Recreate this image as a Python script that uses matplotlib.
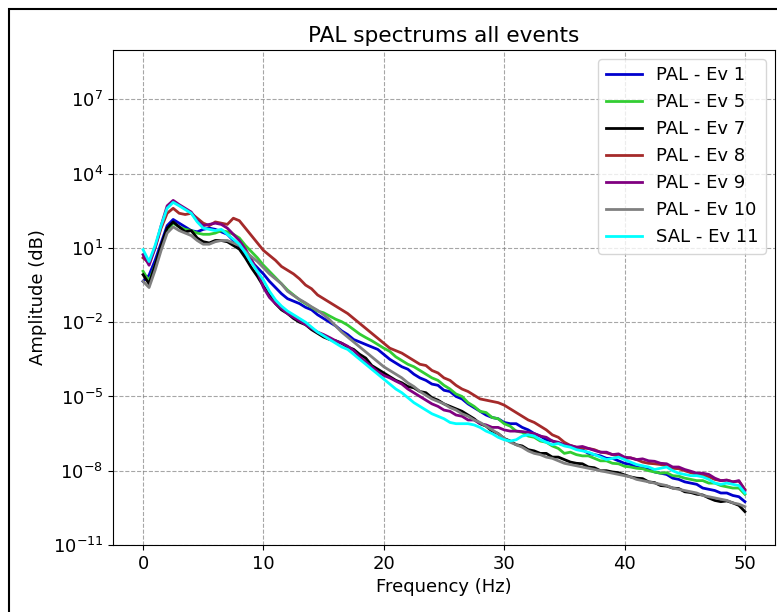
import numpy as np
import matplotlib
matplotlib.use('Agg')
import matplotlib.pyplot as plt
from matplotlib.patches import Rectangle
from matplotlib.ticker import NullLocator

# Frequency axis (Hz), 0.5 Hz resolution
freqs = np.arange(0, 50.5, 0.5)

# Spectral amplitudes, stored as log10 values
ev1_log = [-0.35, -0.10, 0.50, 1.20, 1.90, 2.15, 2.00, 1.85, 1.70, 1.65,
           1.75, 1.80, 1.75, 1.65, 1.55, 1.30, 1.05, 0.75, 0.45, 0.20,
           -0.05, -0.35, -0.60, -0.85, -1.05, -1.15, -1.25, -1.40, -1.50, -1.70,
           -1.85, -2.00, -2.15, -2.35, -2.50, -2.70, -2.80, -2.90, -3.00, -3.10,
           -3.30, -3.50, -3.65, -3.80, -3.90, -4.10, -4.25, -4.35, -4.50, -4.55,
           -4.75, -4.80, -5.00, -5.10, -5.30, -5.45, -5.60, -5.75, -5.85, -5.90,
           -6.05, -6.10, -6.10, -6.25, -6.35, -6.50, -6.60, -6.75, -6.80, -6.90,
           -6.95, -7.00, -7.10, -7.15, -7.30, -7.35, -7.40, -7.50, -7.50, -7.60,
           -7.70, -7.75, -7.85, -7.90, -7.95, -8.05, -8.10, -8.15, -8.30, -8.35,
           -8.45, -8.50, -8.55, -8.70, -8.75, -8.80, -8.90, -8.90, -9.00, -9.05,
           -9.25]

ev5_log = [0.06, -0.35, 0.30, 1.00, 1.70, 2.00, 1.85, 1.75, 1.70, 1.60,
           1.55, 1.55, 1.60, 1.70, 1.65, 1.55, 1.40, 1.10, 0.85, 0.60,
           0.30, 0.05, -0.20, -0.45, -0.70, -0.90, -1.10, -1.25, -1.40, -1.55,
           -1.62, -1.75, -1.88, -1.98, -2.12, -2.30, -2.48, -2.62, -2.75, -2.90,
           -3.05, -3.18, -3.40, -3.55, -3.70, -3.80, -3.95, -4.10, -4.25, -4.35,
           -4.55, -4.70, -4.90, -5.00, -5.25, -5.40, -5.60, -5.65, -5.85, -5.90,
           -6.10, -6.20, -6.40, -6.45, -6.60, -6.65, -6.80, -6.85, -7.00, -7.10,
           -7.30, -7.25, -7.35, -7.40, -7.40, -7.50, -7.60, -7.60, -7.70, -7.72,
           -7.82, -7.85, -7.90, -7.92, -8.00, -8.05, -8.10, -8.08, -8.20, -8.22,
           -8.30, -8.35, -8.40, -8.40, -8.50, -8.50, -8.60, -8.65, -8.70, -8.70,
           -8.95]

ev7_log = [-0.08, -0.45, 0.30, 1.10, 1.80, 2.05, 1.85, 1.65, 1.70, 1.40,
           1.25, 1.20, 1.30, 1.30, 1.25, 1.10, 0.95, 0.60, 0.20, -0.15,
           -0.55, -0.90, -1.25, -1.50, -1.65, -1.85, -2.00, -2.10, -2.30, -2.45,
           -2.60, -2.70, -2.75, -2.85, -3.00, -3.10, -3.30, -3.45, -3.75, -3.90,
           -4.05, -4.20, -4.35, -4.45, -4.60, -4.65, -4.80, -4.85, -5.05, -5.15,
           -5.30, -5.40, -5.50, -5.60, -5.75, -5.90, -6.10, -6.20, -6.40, -6.50,
           -6.70, -6.80, -6.95, -7.00, -7.15, -7.20, -7.30, -7.30, -7.45, -7.45,
           -7.55, -7.65, -7.70, -7.72, -7.85, -7.88, -8.00, -8.00, -8.05, -8.08,
           -8.17, -8.25, -8.30, -8.32, -8.45, -8.48, -8.60, -8.62, -8.70, -8.72,
           -8.85, -8.88, -8.95, -8.98, -9.10, -9.20, -9.25, -9.22, -9.30, -9.40,
           -9.65]

ev8_log = [0.60, 0.40, 1.00, 1.80, 2.40, 2.60, 2.40, 2.35, 2.40, 2.20,
           2.00, 1.90, 2.05, 2.00, 1.95, 2.20, 2.10, 1.80, 1.50, 1.20,
           0.90, 0.70, 0.50, 0.25, 0.10, -0.05, -0.25, -0.50, -0.65, -0.90,
           -1.05, -1.20, -1.35, -1.50, -1.65, -1.85, -2.05, -2.25, -2.45, -2.65,
           -2.85, -3.05, -3.15, -3.25, -3.40, -3.55, -3.70, -3.75, -3.95, -4.05,
           -4.25, -4.35, -4.55, -4.70, -4.80, -4.95, -5.10, -5.15, -5.20, -5.25,
           -5.35, -5.50, -5.65, -5.80, -5.95, -6.05, -6.20, -6.35, -6.55, -6.65,
           -6.85, -6.98, -7.05, -7.08, -7.10, -7.15, -7.25, -7.28, -7.35, -7.40,
           -7.50, -7.48, -7.55, -7.65, -7.70, -7.72, -7.75, -7.80, -7.90, -7.92,
           -8.00, -8.08, -8.15, -8.18, -8.25, -8.35, -8.40, -8.38, -8.45, -8.42,
           -8.75]

ev9_log = [0.73, 0.30, 1.00, 1.90, 2.70, 2.92, 2.75, 2.60, 2.45, 2.10,
           1.90, 1.95, 2.00, 1.95, 1.80, 1.55, 1.30, 0.95, 0.55, 0.05,
           -0.60, -1.00, -1.25, -1.45, -1.65, -1.80, -1.95, -2.10, -2.25, -2.40,
           -2.50, -2.62, -2.75, -2.85, -2.97, -3.15, -3.40, -3.60, -3.80, -4.00,
           -4.15, -4.25, -4.38, -4.50, -4.70, -4.85, -5.00, -5.15, -5.30, -5.40,
           -5.55, -5.60, -5.75, -5.80, -5.95, -5.95, -6.10, -6.15, -6.25, -6.25,
           -6.35, -6.40, -6.40, -6.42, -6.45, -6.50, -6.60, -6.65, -6.80, -6.85,
           -6.95, -6.98, -7.05, -7.02, -7.10, -7.18, -7.25, -7.25, -7.35, -7.32,
           -7.45, -7.48, -7.55, -7.52, -7.60, -7.62, -7.70, -7.72, -7.85, -7.85,
           -7.95, -8.02, -8.10, -8.10, -8.15, -8.30, -8.40, -8.38, -8.45, -8.40,
           -8.80]

ev10_log = [-0.35, -0.60, 0.10, 0.90, 1.60, 1.85, 1.70, 1.60, 1.50, 1.30,
            1.15, 1.15, 1.25, 1.30, 1.30, 1.20, 1.10, 0.85, 0.65, 0.45,
            0.20, -0.05, -0.25, -0.45, -0.75, -0.92, -1.08, -1.22, -1.38, -1.52,
            -1.70, -1.90, -2.15, -2.40, -2.60, -2.80, -3.00, -3.20, -3.40, -3.60,
            -3.80, -3.95, -4.10, -4.25, -4.45, -4.60, -4.80, -4.95, -5.10, -5.20,
            -5.30, -5.45, -5.55, -5.70, -5.80, -5.95, -6.05, -6.20, -6.35, -6.50,
            -6.70, -6.85, -6.95, -7.05, -7.20, -7.30, -7.35, -7.45, -7.50, -7.60,
            -7.70, -7.75, -7.80, -7.85, -7.90, -7.95, -8.00, -8.05, -8.10, -8.15,
            -8.20, -8.25, -8.35, -8.40, -8.45, -8.50, -8.55, -8.60, -8.70, -8.75,
            -8.80, -8.85, -8.90, -9.00, -9.05, -9.10, -9.15, -9.20, -9.30, -9.35,
            -9.45]

ev11_log = [0.93, 0.45, 1.10, 1.90, 2.60, 2.84, 2.70, 2.55, 2.40, 2.05,
            1.80, 1.75, 1.70, 1.75, 1.55, 1.35, 1.15, 0.80, 0.40, 0.05,
            -0.30, -0.75, -1.10, -1.35, -1.55, -1.70, -1.85, -2.00, -2.20, -2.40,
            -2.55, -2.70, -2.85, -3.00, -3.10, -3.30, -3.50, -3.70, -3.90, -4.10,
            -4.30, -4.50, -4.70, -4.85, -5.05, -5.25, -5.40, -5.55, -5.70, -5.80,
            -5.90, -6.05, -6.10, -6.10, -6.10, -6.15, -6.25, -6.40, -6.50, -6.65,
            -6.75, -6.80, -6.75, -6.60, -6.55, -6.60, -6.75, -6.85, -6.95, -6.90,
            -7.00, -7.05, -7.15, -7.20, -7.25, -7.35, -7.45, -7.55, -7.50, -7.45,
            -7.55, -7.65, -7.75, -7.80, -7.85, -7.95, -7.90, -7.85, -8.00, -8.10,
            -8.15, -8.20, -8.20, -8.25, -8.35, -8.50, -8.55, -8.50, -8.55, -8.60,
            -8.90]

labels = ['PAL - Ev 1', 'PAL - Ev 5', 'PAL - Ev 7', 'PAL - Ev 8',
          'PAL - Ev 9', 'PAL - Ev 10', 'SAL - Ev 11']
colors = ['mediumblue', 'limegreen', 'black', 'brown', 'purple', 'gray', 'cyan']
series = [ev1_log, ev5_log, ev7_log, ev8_log, ev9_log, ev10_log, ev11_log]

plt.rcParams['font.size'] = 13

fig = plt.figure(figsize=(7.77, 6.12), dpi=100)
ax = fig.add_axes([0.1454, 0.1095, 0.852, 0.809])

for vals, lab, col in zip(series, labels, colors):
    ax.plot(freqs, 10.0 ** np.array(vals), color=col, linewidth=2, label=lab)

ax.set_yscale('log')
ax.set_ylim(1e-11, 1e9)
ax.set_xlim(-2.5, 52.5)
ax.set_yticks([1e-11, 1e-8, 1e-5, 1e-2, 1e1, 1e4, 1e7])
ax.yaxis.set_minor_locator(NullLocator())
ax.set_xticks([0, 10, 20, 30, 40, 50])

ax.grid(True, linestyle='--', color='gray', linewidth=0.8, alpha=0.7)
ax.set_title('PAL spectrums all events')
ax.set_xlabel('Frequency (Hz)')
ax.set_ylabel('Amplitude (dB)')
ax.legend(loc='upper right')

# black frame around the figure
fig.patches.append(Rectangle((9 / 777, -0.05), 1.2, 1.05 - 9 / 612,
                             transform=fig.transFigure, fill=False,
                             edgecolor='black', linewidth=1.5))

fig.savefig('out.png', dpi=100)
